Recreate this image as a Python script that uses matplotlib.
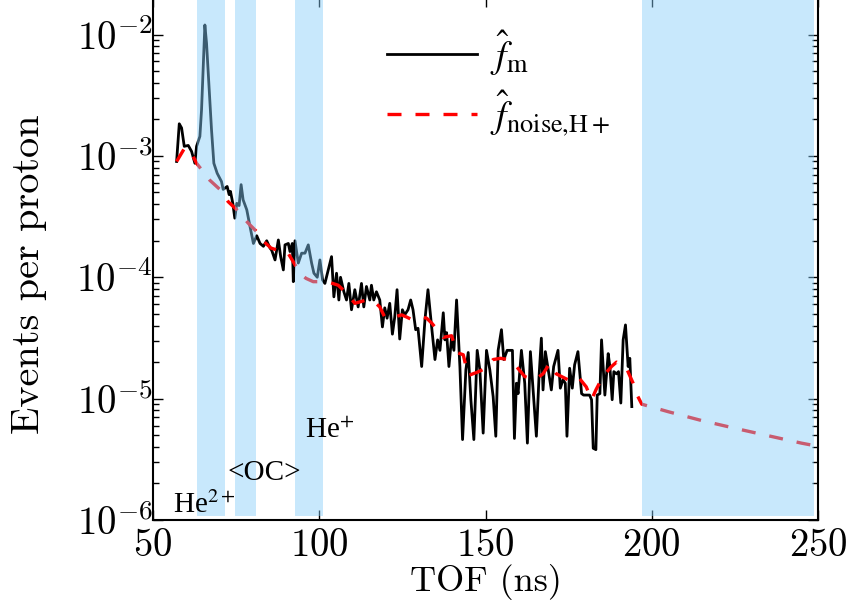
import numpy as np
import matplotlib
matplotlib.use("Agg")
import matplotlib.pyplot as plt

plt.rcParams['font.family'] = 'serif'
plt.rcParams['font.serif'] = ['cmr10']
plt.rcParams['mathtext.fontset'] = 'cm'
plt.rcParams['axes.formatter.use_mathtext'] = True

# measured spectrum f_m (TOF in ns, events per proton)
tof_m = [57.1, 57.9, 58.6, 59.4, 60.6, 61.6, 62.6, 63.1, 64.1, 64.6, 65.1, 65.6,
         66.1, 66.8, 67.6, 68.3, 69.3, 70.6, 71.1, 72.3, 72.9, 73.3, 74.0, 74.6,
         75.2, 75.9, 76.5, 77.1, 78.2, 79.2, 80.2, 81.2, 82.2, 83.2, 84.2, 85.2,
         85.7, 86.7, 87.7, 88.4, 89.2, 89.7, 90.7, 91.2, 91.9, 92.2, 92.7, 93.7,
         94.7, 95.7, 96.7, 97.7, 98.4, 99.4, 100.2, 101.0, 101.7, 102.7, 103.7, 104.4,
         105.2, 105.9, 106.4, 107.4, 108.2, 108.9, 109.7, 110.7, 111.7, 112.7, 113.4, 114.2,
         115.2, 115.7, 116.4, 117.2, 118.2, 119.0, 119.7, 120.4, 121.2, 122.0, 122.7, 123.4,
         124.2, 125.0, 125.7, 126.7, 127.5, 128.2, 129.0, 129.7, 130.8, 131.8, 132.7, 133.8,
         134.8, 135.6, 136.3, 137.3, 137.8, 138.3, 139.0, 139.8, 140.5, 141.3, 142.3, 143.1,
         144.1, 144.8, 145.6, 146.5, 147.5, 148.3, 149.3, 150.3, 151.3, 152.3, 153.1, 153.8,
         154.8, 155.5, 156.5, 157.5, 158.1, 158.7, 159.3, 159.8, 160.8, 161.8, 162.6, 163.5,
         164.3, 165.3, 166.1, 166.8, 167.3, 168.0, 168.8, 169.8, 170.5, 171.8, 172.5, 173.3,
         174.0, 174.5, 175.3, 176.1, 176.8, 177.8, 178.9, 179.5, 181.3, 181.9, 182.4, 183.2,
         183.6, 184.4, 184.9, 185.9, 186.9, 187.4, 188.1, 188.6, 189.4, 190.0, 190.7, 191.4,
         192.1, 192.9, 193.4, 194.0]
ev_m = [9.0e-4, 1.84e-3, 1.70e-3, 1.2e-3, 1.22e-3, 1.09e-3, 8.7e-4, 1.2e-3, 1.45e-3, 2.4e-3, 5.46e-3, 1.2e-2,
        8.5e-3, 4.0e-3, 1.64e-3, 8.7e-4, 7.2e-4, 6.15e-4, 5.3e-4, 5.6e-4, 4.8e-4, 5.1e-4, 4.07e-4, 3.07e-4,
        4.07e-4, 3.9e-4, 5.8e-4, 4.35e-4, 3.6e-4, 2.6e-4, 1.9e-4, 2.2e-4, 1.9e-4, 1.8e-4, 2.0e-4, 1.74e-4,
        1.67e-4, 1.39e-4, 2.03e-4, 1.48e-4, 1.15e-4, 1.85e-4, 1.9e-4, 1.63e-4, 1.9e-4, 9.2e-5, 2.0e-4, 1.31e-4,
        1.58e-4, 1.58e-4, 1.85e-4, 1.31e-4, 1.08e-4, 1.0e-4, 1.39e-4, 9.5e-5, 8.9e-5, 1.15e-4, 1.48e-4, 6.9e-5,
        1.08e-4, 6.5e-5, 1.0e-4, 7.6e-5, 6.5e-5, 8.9e-5, 5.4e-5, 7.9e-5, 5.7e-5, 8.9e-5, 5.7e-5, 8.4e-5,
        6.5e-5, 8.6e-5, 6.5e-5, 7.6e-5, 6.5e-5, 3.9e-5, 5.6e-5, 4.6e-5, 6.1e-5, 3.4e-5, 4.7e-5, 7.9e-5,
        3.1e-5, 5.4e-5, 4.9e-5, 5.4e-5, 6.5e-5, 5.4e-5, 3.7e-5, 3.8e-5, 1.84e-5, 4.5e-5, 7.9e-5, 3.9e-5,
        2.1e-5, 3.05e-5, 2.5e-5, 5.1e-5, 3.05e-5, 3.5e-5, 1.84e-5, 3.2e-5, 2.5e-5, 6.5e-5, 1.84e-5, 4.6e-6,
        1.73e-5, 2.4e-5, 9.8e-6, 4.6e-6, 2.5e-5, 1.73e-5, 5.2e-6, 2.5e-5, 1.73e-5, 1.04e-5, 4.9e-6, 2.5e-5,
        3.7e-5, 2.1e-5, 2.5e-5, 2.5e-5, 2.5e-5, 4.7e-6, 1.34e-5, 1.1e-5, 2.5e-5, 1.34e-5, 4.3e-6, 2.44e-5,
        1.18e-5, 4.9e-6, 1.52e-5, 3.15e-5, 1.18e-5, 2.44e-5, 1.78e-5, 1.18e-5, 1.84e-5, 2.5e-5, 1.22e-5, 1.43e-5,
        1.34e-5, 4.9e-6, 1.78e-5, 1.22e-5, 1.9e-5, 2.44e-5, 1.1e-5, 1.07e-5, 1.07e-5, 9.8e-6, 3.9e-6, 3.8e-6,
        1.07e-5, 1.1e-5, 3.05e-5, 1.07e-5, 2.35e-5, 1.84e-5, 9.8e-6, 1.67e-5, 1.6e-5, 1.67e-5, 9.2e-6, 3.05e-5,
        4.05e-5, 1.84e-5, 2.15e-5, 8.6e-6]

# noise model f_noise,H+
tof_n = [57.1, 59.5, 61.6, 63.1, 67.1, 70.1, 72.6, 75.2, 78.6, 81.7, 83.5, 85.5,
         88.7, 90.5, 92.0, 94.2, 96.0, 98.2, 101.2, 103.5, 105.7, 108.2, 110.7, 114.2,
         116.5, 118.2, 119.7, 121.2, 124.8, 126.3, 127.7, 130.8, 132.3, 133.8, 135.8, 137.3,
         139.8, 141.3, 143.3, 144.8, 147.5, 149.5, 151.3, 152.3, 154.5, 156.8, 159.3, 161.8,
         164.8, 167.3, 169.3, 171.3, 174.8, 177.8, 180.3, 181.9, 183.2, 185.3, 187.9, 189.4,
         192.4, 194.4, 195.6, 197.0, 205.0, 215.0, 225.0, 235.0, 245.0, 250.0]
ev_n = [9.0e-4, 1.16e-3, 1.05e-3, 8.7e-4, 6.3e-4, 5.3e-4, 4.2e-4, 3.6e-4, 2.8e-4, 2.3e-4, 1.95e-4, 1.74e-4,
        1.63e-4, 1.6e-4, 1.37e-4, 1.08e-4, 9.8e-5, 9.2e-5, 9.2e-5, 9.0e-5, 8.6e-5, 7.4e-5, 6.1e-5, 6.5e-5,
        6.3e-5, 5.7e-5, 4.7e-5, 4.6e-5, 4.9e-5, 4.7e-5, 4.5e-5, 4.7e-5, 4.6e-5, 4.2e-5, 3.6e-5, 3.2e-5,
        3.3e-5, 2.4e-5, 2.3e-5, 1.55e-5, 1.65e-5, 1.75e-5, 1.95e-5, 2.1e-5, 2.15e-5, 2.1e-5, 1.84e-5, 1.52e-5,
        1.43e-5, 1.6e-5, 1.95e-5, 1.6e-5, 1.43e-5, 1.52e-5, 1.25e-5, 9.8e-6, 1.18e-5, 1.52e-5, 1.84e-5, 2.0e-5,
        1.78e-5, 1.34e-5, 1.07e-5, 9.0e-6, 7.8e-6, 6.6e-6, 5.7e-6, 4.95e-6, 4.3e-6, 4.05e-6]

# masked TOF windows
span_lo = [63.3, 74.6, 92.8, 197.0]
span_hi = [71.7, 80.9, 101.2, 248.9]

fig = plt.figure(figsize=(8.49, 6.07), dpi=100)
ax = fig.add_axes([153 / 849, 87 / 607, 665 / 849, 523 / 607])

ax.plot(tof_m, ev_m, color='k', lw=2.0, label=r'$\hat{f}_{\rm m}$', zorder=2)
ax.plot(tof_n, ev_n, color='red', lw=2.4, linestyle=(0, (4.2, 4.2)),
        label=r'$\hat{f}_{\mathrm{noise{,}H+}}$', zorder=3)

for lo, hi in zip(span_lo, span_hi):
    ax.fill_between([lo, hi], 1.08e-6, 0.0199, color='lightskyblue', alpha=0.45,
                    lw=0, zorder=4)

ax.set_yscale('log')
ax.set_xlim(50, 250)
ax.set_ylim(1e-6, 0.0204)
ax.set_xticks([50, 100, 150, 200, 250])
ax.tick_params(which='both', direction='in', top=True, right=True, labelsize=28)
ax.tick_params(which='major', length=7, width=1)
ax.tick_params(which='minor', length=4, width=1)
ax.tick_params(axis='y', pad=0)
ax.tick_params(axis='x', pad=6)
for s in ax.spines.values():
    s.set_linewidth(1.5)

ax.set_xlabel('TOF (ns)', fontsize=26, labelpad=0)
ax.set_ylabel('Events per proton', fontsize=29)
ax.yaxis.set_label_coords(-0.16, 0.47)

tfont = dict(family='Liberation Serif', fontsize=21, math_fontfamily='stix', zorder=5)
ax.text(56.1, 1.14e-6, r'He$^{2+}$', ha='left', va='baseline', **tfont)
ax.text(72.3, 2.14e-6, '<OC>', ha='left', va='baseline', **tfont)
ax.text(95.7, 4.72e-6, r'He$^{+}$', ha='left', va='baseline', **tfont)

leg = ax.legend(loc='upper left', bbox_to_anchor=(0.352, 0.94), frameon=False,
                borderpad=0, borderaxespad=0, fontsize=27, handlelength=2.4,
                handletextpad=0.35, labelspacing=0.3)
for t in leg.get_texts():
    t.set_math_fontfamily('stix')
leg.set_zorder(6)

fig.savefig('out.png', dpi=100)
